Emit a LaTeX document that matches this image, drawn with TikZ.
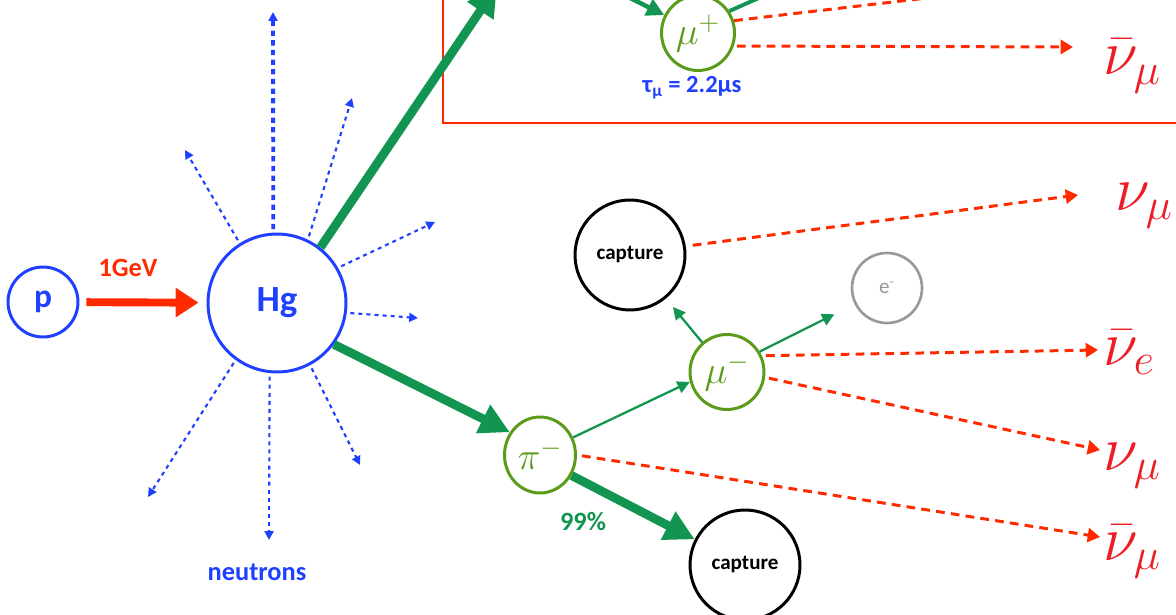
\RequirePackage{fix-cm}
\documentclass[tikz,border=0pt]{standalone}
\usepackage{fontspec}
\setmainfont{Carlito}
\usetikzlibrary{arrows.meta,shapes.geometric}
\definecolor{nblue}{HTML}{2040FF}
\definecolor{nred}{HTML}{FF2A00}
\definecolor{lred}{HTML}{EE1C25}
\definecolor{ngreen}{HTML}{129550}
\definecolor{olive}{HTML}{5B9B1A}
\definecolor{ngrey}{HTML}{999999}
\begin{document}
\begin{tikzpicture}[x=0.02cm,y=-0.02cm,
  bluecirc/.style={circle,draw=nblue,line width=1.7pt,text=nblue,font=\bfseries,inner sep=0pt},
  greencirc/.style={ellipse,draw=olive,line width=1.7pt,text=olive,inner sep=0pt,font=\fontsize{22}{26}\selectfont},
  capcirc/.style={circle,draw=black,line width=1.7pt,inner sep=0pt,minimum size=2.2cm,font=\fontsize{12}{14}\selectfont\bfseries},
  greycirc/.style={circle,draw=ngrey,line width=1.5pt,text=ngrey,inner sep=0pt,minimum size=1.4cm,font=\fontsize{12}{14}\selectfont},
  ndot/.style={draw=nblue,line width=1.2pt,dash pattern=on 2.3pt off 2.3pt,-{Triangle[length=5pt,width=5pt]},shorten <=2pt},
  thickgreen/.style={draw=ngreen,line width=5pt,-{Triangle[length=17pt,width=17pt]}},
  thingreen/.style={draw=ngreen,line width=1.3pt,-{Triangle[length=7pt,width=7pt]}},
  rdash/.style={draw=nred,line width=1.7pt,dash pattern=on 5pt off 3.5pt,-{Triangle[length=7pt,width=8pt]}},
  nulab/.style={text=lred,anchor=base west,inner sep=0pt,font=\fontsize{36}{40}\selectfont}
]
\useasboundingbox (0,0) rectangle (1176,615);
\begin{scope}
\clip (0,0) rectangle (1176,615);
% red box
\draw[nred,line width=1.7pt] (443,-20) rectangle (1220,123);

% main nodes
\node[bluecirc,minimum size=1.4cm,font=\fontsize{19}{22}\selectfont\bfseries] (p) at (43,302) {p};
\node[bluecirc,minimum size=2.76cm,font=\fontsize{21}{24}\selectfont\bfseries] (Hg) at (277,303) {Hg};
\node[greencirc,minimum width=1.42cm,minimum height=1.52cm] (pim) at (540,455) {$\pi^-$};
\node[greencirc,minimum width=1.48cm,minimum height=1.5cm] (mum) at (727,372) {$\mu^-$};
\node[greencirc,minimum width=1.46cm,minimum height=1.5cm] (mup) at (698,33) {$\mu^+$};
\node[capcirc] (capt) at (630,255) {capture};
\node[capcirc] (capb) at (745,565) {capture};
\node[greycirc] (em) at (887,288) {e\textsuperscript{-}};

% proton beam
\draw[nred,line width=4.5pt,-{Triangle[length=13pt,width=16pt]},shorten <=0.14cm,shorten >=0.16cm] (p) -- (Hg);
\node[text=nred,font=\fontsize{15}{18}\selectfont\bfseries] (gev) at (128,268) {1GeV};

% neutrons
\coordinate (n1) at (273,12);
\draw[ndot,line width=2.2pt,dash pattern=on 3pt off 2.5pt] (Hg.93) -- (n1);
\foreach \a/\x/\y [count=\i from 2] in {122/185/150, 64/352/98, 30/435/222, -8/418/318, -62/360/465, -96/269/540, -126/148/497} {
  \coordinate (n\i) at (\x,\y);
  \draw[ndot] (Hg.\a) -- (n\i);
}
\node[text=nblue,font=\fontsize{15}{18}\selectfont\bfseries] (neu) at (257,572) {neutrons};

% pions
\coordinate (pip) at (497,-14);
\draw[thickgreen] (Hg.52) -- (pip);
\draw[thickgreen] (Hg.-36) -- (pim.143);
\draw[thickgreen] (pim.-33) -- (capb.153);
\node[text=ngreen,font=\fontsize{15}{18}\selectfont\bfseries] (pc) at (583,522) {99\%};

% mu- decays
\draw[thingreen] (pim.28) -- (mum.195);
\draw[thingreen,shorten >=0.22cm] (mum.130) -- (capt);
\draw[thingreen,shorten >=0.45cm] (mum.32) -- (em);

% neutrinos
\coordinate (v1) at (1078,195);
\coordinate (v2) at (1098,350);
\coordinate (v3) at (1100,450);
\coordinate (v4) at (1100,537);
\coordinate (v0) at (1073,47);
\draw[rdash,shorten <=0.14cm] (capt.9) -- (v1);
\draw[rdash,shorten <=0.08cm] (mum.25) -- (v2);
\draw[rdash,shorten <=0.08cm] (mum.-8) -- (v3);
\draw[rdash,shorten <=0.1cm] (pim.0) -- (v4);
\draw[rdash,shorten <=0.06cm] (mup.-20) -- (v0);
\coordinate (vup) at (1200,-34);
\draw[draw=nred,line width=1.7pt,dash pattern=on 5pt off 3.5pt] (mup.19) -- (vup);

% mu+ in the box
\coordinate (mupin) at (598,-18);
\draw[draw=ngreen,line width=2.5pt,-{Triangle[length=10pt,width=10pt]}] (mupin) -- (mup.152);
\coordinate (eup) at (795,-18);
\draw[draw=ngreen,line width=2.2pt] (mup.35) -- (eup);
\node[text=nblue,font=\fontsize{14}{16}\selectfont\bfseries] (tau) at (692,88) {τ\textsubscript{µ} = 2.2µs};

% neutrino labels
\node[nulab] (l0) at (1103,75) {$\bar{\nu}_{\mu}$};
\node[nulab] (l1) at (1115,210) {$\nu_{\mu}$};
\node[nulab] (l2) at (1103,365) {$\bar{\nu}_{e}$};
\node[nulab] (l3) at (1103,470) {$\nu_{\mu}$};
\node[nulab] (l4) at (1103,560) {$\bar{\nu}_{\mu}$};
\end{scope}
\end{tikzpicture}
\end{document}
